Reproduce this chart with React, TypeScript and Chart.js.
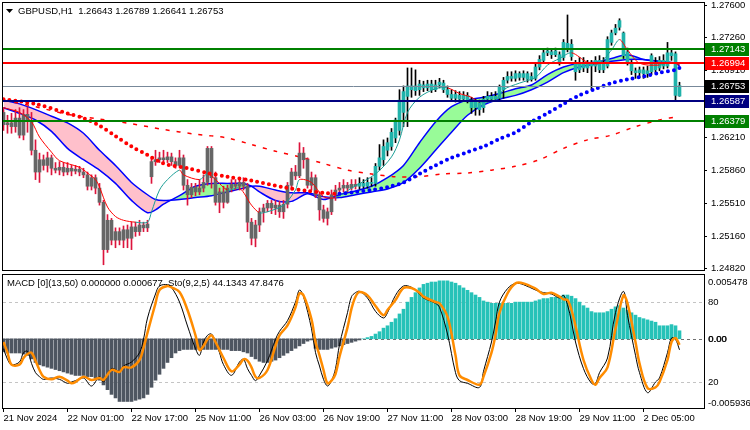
import React, { useEffect, useRef } from "react";
import { Chart, registerables } from "chart.js";

Chart.register(...registerables);

const FONT = "'Liberation Sans', Arial, sans-serif";
const FS = 9.5;
Chart.defaults.font.family = FONT;

// ---------------- data ----------------
const symbolName = "GBPUSD,H1";
const xTickBars = [0, 16, 32, 48, 64, 80, 96, 112, 128, 144, 160];
const xTickLabels = ["21 Nov 2024", "22 Nov 01:00", "22 Nov 17:00", "25 Nov 11:00", "26 Nov 03:00", "26 Nov 19:00", "27 Nov 11:00", "28 Nov 03:00", "28 Nov 19:00", "29 Nov 11:00", "2 Dec 05:00"];
const priceTicks = [1.276, 1.2726, 1.2691, 1.2656, 1.2621, 1.2586, 1.2551, 1.2516, 1.2482];

const opens = [
  1.2647, 1.2634, 1.2636, 1.2632, 1.2641, 1.2623, 1.2645, 1.2638, 1.2607, 1.2584,
  1.2597, 1.2591, 1.2599, 1.2588, 1.2586, 1.2589, 1.2584, 1.2588, 1.2585, 1.2587,
  1.2584, 1.2581, 1.2569, 1.2578, 1.2567, 1.2552, 1.2502, 1.2533, 1.2512, 1.2521,
  1.2512, 1.2523, 1.2514, 1.2526, 1.2521, 1.2528, 1.2525, 1.2579, 1.2595, 1.2597,
  1.2599, 1.2597, 1.2600, 1.2595, 1.2591, 1.2599, 1.2570, 1.2560, 1.2568, 1.2563,
  1.2567, 1.2573, 1.2609, 1.2578, 1.2552, 1.2563, 1.2552, 1.2567, 1.2571, 1.2569,
  1.2573, 1.2569, 1.2531, 1.2514, 1.2528, 1.2542, 1.2546, 1.2551, 1.2546, 1.2549,
  1.2542, 1.2550, 1.2570, 1.2584, 1.2580, 1.2604, 1.2597, 1.2570, 1.2578, 1.2560,
  1.2544, 1.2535, 1.2542, 1.2560, 1.2565, 1.2567, 1.2570, 1.2567, 1.2571, 1.2569,
  1.2572, 1.2569, 1.2573, 1.2572, 1.2590, 1.2597, 1.2607, 1.2611, 1.2620, 1.2628,
  1.2647, 1.2664, 1.2671, 1.2675, 1.2671, 1.2676, 1.2673, 1.2677, 1.2671, 1.2676,
  1.2678, 1.2671, 1.2666, 1.2662, 1.2665, 1.2661, 1.2665, 1.2660, 1.2652, 1.2657,
  1.2652, 1.2661, 1.2664, 1.2661, 1.2662, 1.2671, 1.2681, 1.2685, 1.2683, 1.2688,
  1.2684, 1.2688, 1.2682, 1.2683, 1.2695, 1.2702, 1.2710, 1.2711, 1.2708, 1.2708,
  1.2705, 1.2720, 1.2719, 1.2699, 1.2692, 1.2700, 1.2694, 1.2698, 1.2696, 1.2702,
  1.2692, 1.2696, 1.2721, 1.2731, 1.2737, 1.2731, 1.2711, 1.2699, 1.2691, 1.2689,
  1.2692, 1.2688, 1.2690, 1.2700, 1.2694, 1.2702, 1.2696, 1.2710, 1.2709, 1.26643,
];
const highs = [
  1.2652, 1.2644, 1.2646, 1.2650, 1.2652, 1.2650, 1.2653, 1.2647, 1.2618, 1.2604,
  1.2602, 1.2605, 1.2602, 1.2594, 1.2595, 1.2594, 1.2594, 1.2591, 1.2591, 1.2590,
  1.2588, 1.2584, 1.2581, 1.2581, 1.2572, 1.2554, 1.2539, 1.2535, 1.2525, 1.2525,
  1.2527, 1.2528, 1.2531, 1.2531, 1.2533, 1.2531, 1.2533, 1.2599, 1.2607, 1.2605,
  1.2607, 1.2605, 1.2604, 1.2599, 1.2607, 1.2602, 1.2576, 1.2572, 1.2572, 1.2576,
  1.2581, 1.2611, 1.2611, 1.2584, 1.2567, 1.2569, 1.2570, 1.2576, 1.2576, 1.2578,
  1.2578, 1.2572, 1.2535, 1.2533, 1.2546, 1.2550, 1.2554, 1.2554, 1.2554, 1.2553,
  1.2554, 1.2573, 1.2588, 1.2591, 1.2615, 1.2610, 1.2599, 1.2584, 1.2581, 1.2563,
  1.2549, 1.2546, 1.2565, 1.2570, 1.2573, 1.2576, 1.2573, 1.2576, 1.2576, 1.2578,
  1.2576, 1.2578, 1.2578, 1.2593, 1.2613, 1.2618, 1.2620, 1.2630, 1.2641, 1.2671,
  1.2675, 1.2694, 1.2694, 1.2692, 1.2681, 1.2680, 1.2681, 1.2681, 1.2681, 1.2683,
  1.2681, 1.2675, 1.2671, 1.2670, 1.2669, 1.2669, 1.2668, 1.2663, 1.2661, 1.2660,
  1.2664, 1.2669, 1.2668, 1.2669, 1.2676, 1.2684, 1.2690, 1.2690, 1.2691, 1.2690,
  1.2691, 1.2690, 1.2689, 1.2698, 1.2707, 1.2713, 1.2715, 1.2714, 1.2715, 1.2711,
  1.2724, 1.2750, 1.2724, 1.2702, 1.2705, 1.2705, 1.2702, 1.2702, 1.2706, 1.2707,
  1.2705, 1.2727, 1.2734, 1.2740, 1.2746, 1.2732, 1.2715, 1.2702, 1.2694, 1.2695,
  1.2695, 1.2696, 1.2709, 1.2705, 1.2706, 1.2708, 1.2721, 1.2713, 1.2711, 1.26789,
];
const lows = [
  1.2628, 1.2625, 1.2625, 1.2626, 1.2620, 1.2618, 1.2626, 1.2602, 1.2576, 1.2573,
  1.2586, 1.2584, 1.2581, 1.2583, 1.2581, 1.2580, 1.2581, 1.2580, 1.2582, 1.2580,
  1.2578, 1.2565, 1.2565, 1.2561, 1.2549, 1.2486, 1.2499, 1.2507, 1.2504, 1.2507,
  1.2504, 1.2504, 1.2502, 1.2516, 1.2517, 1.2521, 1.2521, 1.2572, 1.2591, 1.2594,
  1.2594, 1.2594, 1.2591, 1.2588, 1.2589, 1.2565, 1.2549, 1.2557, 1.2559, 1.2560,
  1.2563, 1.2570, 1.2567, 1.2549, 1.2541, 1.2546, 1.2551, 1.2563, 1.2565, 1.2565,
  1.2565, 1.2521, 1.2507, 1.2505, 1.2521, 1.2531, 1.2542, 1.2540, 1.2539, 1.2536,
  1.2535, 1.2546, 1.2565, 1.2576, 1.2578, 1.2588, 1.2567, 1.2565, 1.2557, 1.2533,
  1.2531, 1.2528, 1.2539, 1.2554, 1.2562, 1.2563, 1.2563, 1.2565, 1.2566, 1.2566,
  1.2567, 1.2567, 1.2569, 1.2569, 1.2586, 1.2591, 1.2601, 1.2607, 1.2615, 1.2623,
  1.2632, 1.2632, 1.2663, 1.2665, 1.2665, 1.2669, 1.2670, 1.2668, 1.2669, 1.2673,
  1.2668, 1.2663, 1.2660, 1.2658, 1.2658, 1.2659, 1.2657, 1.2646, 1.2644, 1.2644,
  1.2647, 1.2658, 1.2659, 1.2659, 1.2660, 1.2662, 1.2678, 1.2680, 1.2680, 1.2681,
  1.2681, 1.2679, 1.2680, 1.2681, 1.2692, 1.2700, 1.2707, 1.2704, 1.2706, 1.2697,
  1.2702, 1.2711, 1.2702, 1.2681, 1.2689, 1.2690, 1.2689, 1.2671, 1.2690, 1.2689,
  1.2689, 1.2694, 1.2718, 1.2729, 1.2734, 1.2704, 1.2697, 1.2687, 1.2683, 1.2684,
  1.2683, 1.2684, 1.2687, 1.2689, 1.2691, 1.2693, 1.2694, 1.2702, 1.2660, 1.26641,
];
const closes = [
  1.2634, 1.2636, 1.2632, 1.2641, 1.2623, 1.2645, 1.2638, 1.2607, 1.2584, 1.2597,
  1.2591, 1.2599, 1.2588, 1.2586, 1.2589, 1.2584, 1.2588, 1.2585, 1.2587, 1.2584,
  1.2581, 1.2569, 1.2578, 1.2567, 1.2552, 1.2502, 1.2533, 1.2512, 1.2521, 1.2512,
  1.2523, 1.2514, 1.2526, 1.2521, 1.2528, 1.2525, 1.2529, 1.2595, 1.2597, 1.2599,
  1.2597, 1.2600, 1.2595, 1.2591, 1.2599, 1.2570, 1.2560, 1.2568, 1.2563, 1.2567,
  1.2573, 1.2609, 1.2578, 1.2552, 1.2563, 1.2552, 1.2567, 1.2571, 1.2569, 1.2573,
  1.2569, 1.2531, 1.2514, 1.2528, 1.2542, 1.2546, 1.2551, 1.2546, 1.2549, 1.2542,
  1.2550, 1.2570, 1.2584, 1.2580, 1.2604, 1.2597, 1.2570, 1.2578, 1.2560, 1.2544,
  1.2535, 1.2542, 1.2560, 1.2565, 1.2567, 1.2570, 1.2567, 1.2571, 1.2569, 1.2572,
  1.2569, 1.2573, 1.2572, 1.2590, 1.2599, 1.2611, 1.2615, 1.2626, 1.2639, 1.2660,
  1.2669, 1.2675, 1.2675, 1.2670, 1.2677, 1.2673, 1.2677, 1.2671, 1.2676, 1.2679,
  1.2671, 1.2666, 1.2662, 1.2666, 1.2661, 1.2665, 1.2660, 1.2652, 1.2658, 1.2650,
  1.2661, 1.2664, 1.2661, 1.2664, 1.2674, 1.2681, 1.2685, 1.2683, 1.2688, 1.2684,
  1.2688, 1.2682, 1.2685, 1.2695, 1.2703, 1.2710, 1.2712, 1.2708, 1.2712, 1.2700,
  1.2721, 1.2715, 1.2706, 1.2690, 1.2700, 1.2694, 1.2698, 1.2696, 1.2702, 1.2692,
  1.2698, 1.2724, 1.2731, 1.2736, 1.2744, 1.2707, 1.2700, 1.2691, 1.2689, 1.2692,
  1.2688, 1.2691, 1.2707, 1.2692, 1.2702, 1.2696, 1.2710, 1.2707, 1.2665, 1.26753,
];
const bullSwitchBar = 89;

const ribbonBars = [0, 4, 8, 12, 16, 20, 24, 28, 32, 36, 38, 40, 44, 48, 52, 56, 60, 62, 64, 68, 72, 76, 80, 84, 88, 92, 96, 100, 104, 108, 112, 116, 120, 124, 128, 132, 136, 140, 144, 148, 152, 156, 160, 164, 168, 169];
const ribbonSlow = [1.2660, 1.2656, 1.2650, 1.2643, 1.2636, 1.2625, 1.2607, 1.2591, 1.2573, 1.2560, 1.2555, 1.2554, 1.2555, 1.2557, 1.2559, 1.2563, 1.2567, 1.2569, 1.2569, 1.2565, 1.2562, 1.2562, 1.2558, 1.2557, 1.2560, 1.2563, 1.2566, 1.2573, 1.2588, 1.2607, 1.2626, 1.2644, 1.2655, 1.2661, 1.2665, 1.2671, 1.2679, 1.2689, 1.2695, 1.2698, 1.2701, 1.2703, 1.2703, 1.2701, 1.2699, 1.2698];
const ribbonFast = [1.2652, 1.2646, 1.2639, 1.2627, 1.2609, 1.2597, 1.2586, 1.2572, 1.2554, 1.2541, 1.2544, 1.2550, 1.2559, 1.2569, 1.2572, 1.2572, 1.2572, 1.2569, 1.2563, 1.2554, 1.2553, 1.2561, 1.2555, 1.2560, 1.2564, 1.2569, 1.2578, 1.2591, 1.2615, 1.2637, 1.2653, 1.2660, 1.2663, 1.2667, 1.2672, 1.2676, 1.2687, 1.2695, 1.2699, 1.2700, 1.2704, 1.2708, 1.2703, 1.2701, 1.2699, 1.2696];

const fastMaBars = [0, 4, 7, 9, 12, 14, 19, 21, 23, 24, 26, 28, 30, 33, 36, 37, 39, 41, 44, 45, 49, 51, 53, 56, 59, 62, 64, 66, 70, 73, 74, 77, 80, 83, 87, 93, 97, 99, 101, 104, 108, 111, 114, 117, 119, 123, 125, 129, 133, 136, 139, 142, 146, 149, 152, 154, 156, 159, 164, 167, 169];
const fastMaVals = [1.2652, 1.2647, 1.2637, 1.2621, 1.2605, 1.2596, 1.2589, 1.2583, 1.2576, 1.2568, 1.2547, 1.2537, 1.2533, 1.2531, 1.2531, 1.2542, 1.2565, 1.2576, 1.2586, 1.2581, 1.2576, 1.2582, 1.2576, 1.2565, 1.2567, 1.2549, 1.2541, 1.2542, 1.2549, 1.2565, 1.2576, 1.2573, 1.2558, 1.2557, 1.2567, 1.2582, 1.2600, 1.2618, 1.2647, 1.2663, 1.2672, 1.2673, 1.2667, 1.2663, 1.2658, 1.2660, 1.2671, 1.2678, 1.2684, 1.2697, 1.2704, 1.2710, 1.2700, 1.2699, 1.2713, 1.2724, 1.2713, 1.2699, 1.2697, 1.2700, 1.2697];

const dotBars = [0, 8, 16, 20, 24, 28, 32, 36, 40, 46, 51, 56, 62, 70, 76, 80, 84, 88, 92, 96, 100, 104, 108, 112, 116, 120, 124, 128, 132, 136, 140, 144, 148, 152, 156, 160, 164, 168, 169];
const dotVals = [1.2661, 1.2656, 1.2646, 1.2641, 1.2633, 1.2622, 1.2611, 1.2602, 1.2593, 1.2588, 1.2583, 1.2579, 1.2575, 1.2568, 1.2564, 1.2562, 1.2561, 1.2563, 1.2565, 1.2568, 1.2573, 1.2582, 1.2591, 1.2599, 1.2605, 1.2611, 1.2619, 1.2626, 1.2637, 1.2646, 1.2656, 1.2665, 1.2672, 1.2678, 1.2682, 1.2685, 1.2689, 1.2692, 1.2694];

const slowMaBars = [0, 8, 16, 24, 32, 40, 48, 56, 62, 68, 74, 80, 86, 92, 98, 104, 110, 116, 122, 128, 134, 140, 146, 152, 158, 164, 169];
const slowMaVals = [1.2660, 1.2653, 1.2645, 1.2640, 1.2635, 1.2629, 1.2624, 1.2620, 1.2613, 1.2606, 1.2600, 1.2593, 1.2586, 1.2582, 1.2579, 1.2579, 1.2582, 1.2583, 1.2586, 1.2590, 1.2597, 1.2609, 1.2618, 1.2623, 1.2632, 1.2639, 1.2643];

const levelValues = [1.27143, 1.26994, 1.26753, 1.26587, 1.26379];

const macdHist = [
  -0.0011, -0.0012, -0.0012, -0.0012, -0.0012, -0.0013, -0.0014, -0.0017, -0.0020, -0.0022,
  -0.0023, -0.0024, -0.0025, -0.0026, -0.0027, -0.0028, -0.0029, -0.0030, -0.0031, -0.0031,
  -0.0031, -0.0032, -0.0032, -0.0033, -0.0035, -0.0039, -0.0043, -0.0047, -0.0050, -0.0053,
  -0.0053, -0.0053, -0.0053, -0.0052, -0.0051, -0.0050, -0.0047, -0.0041, -0.0035, -0.0030,
  -0.0025, -0.0020, -0.0016, -0.0012, -0.0010, -0.0009, -0.0009, -0.0009, -0.0009, -0.0009,
  -0.0009, -0.0009, -0.0009, -0.0009, -0.0009, -0.0009, -0.0009, -0.0010, -0.0010, -0.0010,
  -0.0011, -0.0012, -0.0015, -0.0017, -0.0019, -0.0020, -0.0020, -0.0019, -0.0018, -0.0016,
  -0.0014, -0.0012, -0.0010, -0.0008, -0.0006, -0.0004, -0.0002, -0.0001, -0.0008, -0.0009,
  -0.0009, -0.0009, -0.0008, -0.0007, -0.0006, -0.0005, -0.0004, -0.0003, -0.0002, -0.0001,
  0.0000, 0.0001, 0.0002, 0.0004, 0.0006, 0.0009, 0.0011, 0.0014, 0.0017, 0.0021,
  0.0025, 0.0031, 0.0035, 0.0039, 0.0043, 0.0046, 0.0047, 0.0048, 0.0048, 0.0049,
  0.0049, 0.0049, 0.0048, 0.0047, 0.0045, 0.0043, 0.0041, 0.0039, 0.0037, 0.0035,
  0.0032, 0.0031, 0.0030, 0.0030, 0.0030, 0.0030, 0.0030, 0.0030, 0.0031, 0.0031,
  0.0031, 0.0031, 0.0031, 0.0032, 0.0033, 0.0034, 0.0034, 0.0035, 0.0035, 0.0036,
  0.0037, 0.0037, 0.0036, 0.0034, 0.0031, 0.0028, 0.0026, 0.0023, 0.0022, 0.0022,
  0.0022, 0.0023, 0.0025, 0.0027, 0.0028, 0.0026, 0.0024, 0.0022, 0.0020, 0.0018,
  0.0017, 0.0016, 0.0015, 0.0014, 0.0011, 0.0011, 0.0011, 0.0012, 0.0011, 0.000677,
];

const stochBars = [
  0, 1, 2, 4, 5, 6, 7, 8, 9, 10,
  12, 14, 16, 17, 18, 20, 22, 24, 25, 27,
  29, 30, 32, 34, 35, 36, 38, 39, 41, 42,
  44, 46, 48, 49, 50, 51, 52, 53, 54, 55,
  57, 59, 60, 61, 62, 63, 64, 66, 68, 69,
  71, 73, 74, 75, 77, 78, 79, 80, 81, 82,
  83, 84, 86, 87, 88, 89, 91, 93, 95, 96,
  98, 100, 102, 104, 105, 108, 109, 111, 113, 114,
  116, 119, 120, 122, 123, 124, 126, 128, 130, 133,
  135, 137, 139, 140, 141, 142, 143, 145, 147, 148,
  149, 151, 153, 155, 156, 158, 159, 161, 163, 164,
  166, 167, 168, 169,
];
const stochSignal = [
  50, 42, 33, 33, 38, 41, 42, 36, 29, 24,
  22, 24, 21, 19, 20, 24, 21.5, 23, 21.5, 29,
  27.5, 31, 31, 36.5, 45.5, 57, 79, 89, 92, 91,
  87.5, 74, 55, 44, 47, 52, 55, 50, 44, 38,
  28, 33, 37, 36, 31, 24, 23, 29, 47, 55,
  62.5, 76, 86.5, 85, 67, 50, 40, 29, 19, 21,
  26, 39, 61, 75, 84, 87.5, 85, 77, 70, 74,
  81.5, 90.5, 90.5, 87, 84, 80, 79, 69, 40, 25,
  21.5, 18, 24, 42, 55, 72, 86.5, 94, 94, 90,
  86, 87, 84, 82, 81.5, 74, 62, 36.5, 21.5, 18,
  23, 31, 60, 85, 79, 50, 34, 15.5, 16, 20,
  36.5, 50, 53, 47.8476,
];
const stochMain = [
  45, 37, 33, 35, 42, 43, 34, 27, 24, 22,
  23, 22, 19, 20, 21, 23, 17, 24, 20, 30,
  28, 32, 35, 42, 52, 68, 86, 92, 93, 91,
  80, 62, 45, 40, 50, 55, 56, 50, 42, 33,
  25, 35, 37, 30, 25, 21, 25, 36, 52, 58,
  66, 80, 89, 84, 60, 42, 32, 22, 17, 21,
  30, 48, 72, 84, 87, 88, 83, 73, 68, 72,
  85, 92, 91, 86, 83, 79, 76, 56, 27, 21,
  19, 16, 28, 50, 65, 80, 90, 94, 93, 89,
  87, 86, 83, 85, 78, 65, 50, 30, 19, 19,
  27, 38, 72, 88, 70, 40, 27, 12, 20, 23,
  42, 53, 52, 44.1343,
];
const stochLevels = [80, 20];

// ---------------- styles ----------------
const X_MIN = -0.125;
const X_MAX = 175.125;
const MAIN_MIN = 1.24794;
const MAIN_MAX = 1.27637;
const MACD_MIN = -0.005936;
const MACD_MAX = 0.005478;
const STO_MIN = -0.25;
const STO_MAX = 101;

const BEAR_BODY = "#666666";
const BEAR_WICK = "#DC143C";
const BULL_BODY = "#20B2AA";
const BULL_WICK = "#000000";
const levelLineColors = ["#008000", "#ff0000", "#778899", "#000080", "#008000"];
const levelBoxColors = ["#008000", "#ff0000", "#000000", "#000080", "#008000"];
const levelWidths = [2, 2, 1, 2, 2];

const pts = (bars: number[], vals: number[]) => bars.map((b, k) => ({ x: b, y: vals[k] }));
const fontStr = `${FS}px ${FONT}`;

function drawFrame(chart: any) {
  const { ctx, chartArea: a } = chart;
  ctx.save();
  ctx.strokeStyle = "#000";
  ctx.lineWidth = 1;
  ctx.setLineDash([]);
  ctx.strokeRect(Math.round(a.left) - 0.5, Math.round(a.top) + 0.5, Math.round(a.right - a.left) + 1, Math.round(a.bottom - a.top) - 1);
  ctx.restore();
}

const mainPlugin = {
  id: "mainDecor",
  afterDatasetsDraw(chart: any) {
    const { ctx, chartArea: a, scales } = chart;
    const y = scales.y;
    ctx.save();
    ctx.beginPath();
    ctx.rect(a.left, a.top, a.right - a.left, a.bottom - a.top);
    ctx.clip();
    levelValues.forEach((v, k) => {
      const w = levelWidths[k];
      let py = Math.round(y.getPixelForValue(v));
      if (w % 2 === 1) py += 0.5;
      ctx.strokeStyle = levelLineColors[k];
      ctx.lineWidth = w;
      ctx.beginPath();
      ctx.moveTo(a.left, py);
      ctx.lineTo(a.right, py);
      ctx.stroke();
    });
    ctx.restore();
  },
  afterDraw(chart: any) {
    const { ctx, chartArea: a, scales } = chart;
    const y = scales.y;
    drawFrame(chart);
    ctx.save();
    ctx.font = fontStr;
    ctx.textBaseline = "middle";
    ctx.textAlign = "left";
    levelValues.forEach((v, k) => {
      const py = Math.round(y.getPixelForValue(v));
      ctx.fillStyle = levelBoxColors[k];
      ctx.fillRect(a.right + 1, py - 6, 44, 13);
      ctx.fillStyle = "#ffffff";
      ctx.fillText(v.toFixed(5), a.right + 7, py + 0.5);
    });
    ctx.fillStyle = "#000";
    ctx.beginPath();
    ctx.moveTo(6, 9);
    ctx.lineTo(13, 9);
    ctx.lineTo(9.5, 13);
    ctx.closePath();
    ctx.fill();
    const n = closes.length - 1;
    const title = `${symbolName}  ${opens[n].toFixed(5)} ${highs[n].toFixed(5)} ${lows[n].toFixed(5)} ${closes[n].toFixed(5)}`;
    ctx.fillText(title, 18, 11);
    ctx.restore();
  },
};

const subPlugin = {
  id: "subDecor",
  beforeDatasetsDraw(chart: any) {
    const { ctx, chartArea: a, scales } = chart;
    ctx.save();
    ctx.lineWidth = 1;
    ctx.setLineDash([3, 3]);
    stochLevels.forEach((v) => {
      const py = Math.round(scales.y2.getPixelForValue(v)) + 0.5;
      ctx.strokeStyle = "#c4c4c4";
      ctx.beginPath();
      ctx.moveTo(a.left, py);
      ctx.lineTo(a.right, py);
      ctx.stroke();
    });
    const pz = Math.round(scales.y.getPixelForValue(0)) + 0.5;
    ctx.strokeStyle = "#707070";
    ctx.beginPath();
    ctx.moveTo(a.left, pz);
    ctx.lineTo(a.right, pz);
    ctx.stroke();
    ctx.restore();
  },
  afterDraw(chart: any) {
    const { ctx, chartArea: a, scales } = chart;
    drawFrame(chart);
    ctx.save();
    ctx.font = fontStr;
    ctx.fillStyle = "#000";
    ctx.textBaseline = "middle";
    ctx.textAlign = "left";
    const lx = a.right + 4;
    ctx.fillText(MACD_MAX.toFixed(6), lx, a.top + 8);
    ctx.fillText(MACD_MIN.toFixed(6), lx, a.bottom - 6);
    stochLevels.forEach((v) => ctx.fillText(String(v), lx, Math.round(scales.y2.getPixelForValue(v)) + 0.5));
    const pz = Math.round(scales.y.getPixelForValue(0)) + 0.5;
    ctx.fillText("0.00", lx, pz);
    ctx.fillText("0.00", lx + 0.6, pz);
    const n = stochBars.length - 1;
    const sub = `MACD [0](13,50) 0.000000 ${macdHist[macdHist.length - 1].toFixed(6)}  Sto(9,2,5) ${stochMain[n].toFixed(4)} ${stochSignal[n].toFixed(4)}`;
    ctx.fillText(sub, 7, a.top + 9);
    ctx.restore();
  },
};

function buildMain(canvas: HTMLCanvasElement) {
  const wickData = highs.map((h, i) => ({ x: i, y: [lows[i], h] }));
  const bodyData = opens.map((o, i) => ({ x: i, y: [o, closes[i]] }));
  return new Chart(canvas, {
    type: "bar",
    data: {
      datasets: [
        {
          type: "line", data: pts(ribbonBars, ribbonFast), borderColor: "#0000ff", borderWidth: 1.5,
          pointRadius: 0, tension: 0.3, fill: { target: "+1", above: "#98FB98", below: "#FFC0CB" }, order: 10,
        },
        {
          type: "line", data: pts(ribbonBars, ribbonSlow), borderColor: "#0000ff", borderWidth: 1.5,
          pointRadius: 0, tension: 0.3, fill: false, order: 9,
        },
        {
          type: "line", data: pts(slowMaBars, slowMaVals), borderColor: "#ff0000", borderWidth: 1.5,
          borderDash: [4, 7], pointRadius: 0, tension: 0.3, fill: false, order: 8,
        },
        {
          type: "bar", data: wickData, barThickness: 1, grouped: false, borderWidth: 0,
          backgroundColor: (c: any) => (c.dataIndex < bullSwitchBar ? BEAR_WICK : BULL_WICK), order: 7,
        },
        {
          type: "bar", data: bodyData, barThickness: 3, grouped: false, borderWidth: 0, minBarLength: 1,
          backgroundColor: (c: any) => (c.dataIndex < bullSwitchBar ? BEAR_BODY : BULL_BODY), order: 6,
        },
        {
          type: "line", data: pts(fastMaBars, fastMaVals), borderColor: "#ff0000", borderWidth: 1,
          pointRadius: 0, tension: 0.3, fill: false, order: 5,
          segment: { borderColor: (c: any) => (c.p1.parsed.y < c.p0.parsed.y ? "#ff0000" : "#1a9e96") },
        },
        {
          type: "line", data: pts(dotBars, dotVals), borderColor: "#ff0000", borderWidth: 4,
          borderDash: [0, 6], borderCapStyle: "round", pointRadius: 0, tension: 0.3, fill: false, order: 4,
          segment: { borderColor: (c: any) => (c.p1.parsed.y < c.p0.parsed.y ? "#ff0000" : "#0000ff") },
        },
      ] as any,
    },
    options: {
      responsive: false,
      animation: false,
      devicePixelRatio: 1,
      events: [],
      layout: { padding: { left: 3, top: 2, right: 0, bottom: 1 } },
      plugins: { legend: { display: false }, tooltip: { enabled: false }, title: { display: false } },
      scales: {
        x: { type: "linear", min: X_MIN, max: X_MAX, display: false, offset: false, grid: { offset: false } },
        y: {
          type: "linear", position: "right", min: MAIN_MIN, max: MAIN_MAX,
          afterBuildTicks: (s: any) => { s.ticks = priceTicks.map((v) => ({ value: v })); },
          afterFit: (s: any) => { s.width = 46; s.paddingTop = 0; s.paddingBottom = 0; },
          ticks: { callback: (v: any) => Number(v).toFixed(5), font: { family: FONT, size: FS }, color: "#000", padding: 4, autoSkip: false },
          grid: { drawOnChartArea: false, drawTicks: true, tickLength: 3, color: "#000" },
          border: { display: false },
        },
      },
    } as any,
    plugins: [mainPlugin],
  });
}

function buildSub(canvas: HTMLCanvasElement) {
  return new Chart(canvas, {
    type: "bar",
    data: {
      datasets: [
        {
          type: "bar", data: macdHist.map((v, i) => ({ x: i, y: v < 0 ? v : null })), backgroundColor: "#4e5661",
          barThickness: 3, grouped: false, borderWidth: 0, yAxisID: "y", order: 5,
        },
        {
          type: "bar", data: macdHist.map((v, i) => ({ x: i, y: v >= 0 ? v : null })), backgroundColor: "#26c2b8",
          barThickness: 3, grouped: false, borderWidth: 0, yAxisID: "y", order: 4,
        },
        {
          type: "line", data: pts(stochBars, stochMain), borderColor: "#000000", borderWidth: 1,
          pointRadius: 0, tension: 0.35, fill: false, yAxisID: "y2", order: 2,
        },
        {
          type: "line", data: pts(stochBars, stochSignal), borderColor: "#ff8c00", borderWidth: 2.5,
          pointRadius: 0, tension: 0.35, fill: false, yAxisID: "y2", order: 1,
        },
      ] as any,
    },
    options: {
      responsive: false,
      animation: false,
      devicePixelRatio: 1,
      events: [],
      layout: { padding: { left: 3, top: 2, right: 46, bottom: 0 } },
      plugins: { legend: { display: false }, tooltip: { enabled: false }, title: { display: false } },
      scales: {
        x: {
          type: "linear", min: X_MIN, max: X_MAX, position: "bottom", offset: false,
          afterBuildTicks: (s: any) => { s.ticks = xTickBars.map((v) => ({ value: v })); },
          afterFit: (s: any) => { s.height = 21; s.paddingLeft = 0; s.paddingRight = 0; },
          ticks: {
            callback: (_v: any, idx: number) => xTickLabels[idx], align: "start", maxRotation: 0, minRotation: 0,
            autoSkip: false, font: { family: FONT, size: FS }, color: "#000", padding: 1,
          },
          grid: { drawOnChartArea: false, drawTicks: true, tickLength: 3, color: "#000", offset: false },
          border: { display: false },
        },
        y: { type: "linear", display: false, min: MACD_MIN, max: MACD_MAX },
        y2: { type: "linear", display: false, min: STO_MIN, max: STO_MAX },
      },
    } as any,
    plugins: [subPlugin],
  });
}

export default function App() {
  const mainRef = useRef<HTMLCanvasElement>(null);
  const subRef = useRef<HTMLCanvasElement>(null);
  useEffect(() => {
    const c1 = buildMain(mainRef.current!);
    const c2 = buildSub(subRef.current!);
    return () => {
      c1.destroy();
      c2.destroy();
    };
  }, []);
  return (
    <div style={{ position: "fixed", left: 0, top: 0, width: 750, height: 430, background: "#ffffff", overflow: "hidden" }}>
      <canvas ref={mainRef} width={750} height={272} style={{ position: "absolute", left: 0, top: 0, width: 750, height: 272 }} />
      <canvas ref={subRef} width={750} height={158} style={{ position: "absolute", left: 0, top: 272, width: 750, height: 158 }} />
    </div>
  );
}
